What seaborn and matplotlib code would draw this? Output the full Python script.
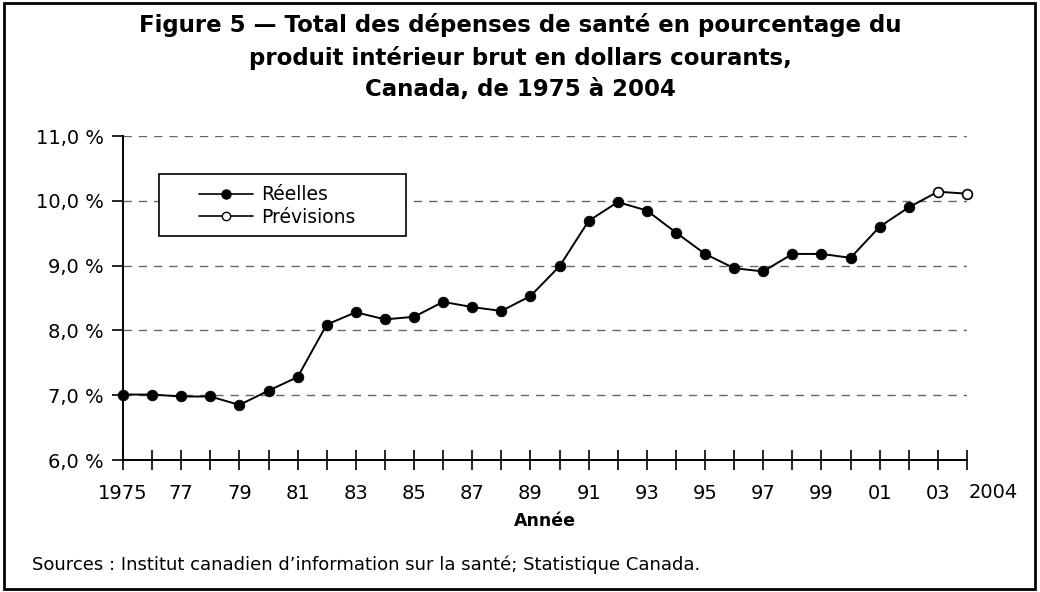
import pandas as pd
import seaborn as sns
import matplotlib.pyplot as plt
from matplotlib.lines import Line2D
from matplotlib.patches import Rectangle

# Data
years = list(range(1975, 2005))
actual = [7.01, 7.01, 6.98, 6.98, 6.85, 7.07, 7.28, 8.09, 8.28, 8.17,
          8.21, 8.44, 8.36, 8.30, 8.53, 8.99, 9.69, 9.98, 9.85, 9.51,
          9.18, 8.96, 8.91, 9.18, 9.18, 9.12, 9.60, 9.90]
forecast = [10.14, 10.11]
xtick_labels = ['1975', '', '77', '', '79', '', '81', '', '83', '', '85', '', '87', '',
                '89', '', '91', '', '93', '', '95', '', '97', '', '99', '', '01', '', '03', '']
ytick_labels = ['6,0 %', '7,0 %', '8,0 %', '9,0 %', '10,0 %', '11,0 %']

df = pd.DataFrame({'Année': years,
                   'Valeur': actual + forecast,
                   'Type': ['Réelles'] * len(actual) + ['Prévisions'] * len(forecast)})

sns.set_style('white')
plt.rcParams['font.family'] = ['DejaVu Sans']
plt.rcParams['text.color'] = 'black'
plt.rcParams['axes.labelcolor'] = 'black'

fig = plt.figure(figsize=(10.4, 5.92), dpi=100)
ax = fig.add_axes([123 / 1040, 132 / 592, 844 / 1040, 324 / 592])

# line through all points, then markers
sns.lineplot(data=df, x='Année', y='Valeur', color='black', lw=1.4, ax=ax, zorder=3)
sns.scatterplot(data=df[df['Type'] == 'Réelles'], x='Année', y='Valeur', color='black',
                edgecolor='black', s=58, ax=ax, zorder=4, legend=False, clip_on=False)
sns.scatterplot(data=df[df['Type'] == 'Prévisions'], x='Année', y='Valeur', color='white',
                edgecolor='black', linewidth=1.2, s=50, ax=ax, zorder=4, legend=False,
                clip_on=False)

ax.set_xlim(1975, 2004)
ax.set_ylim(6, 11)
ax.set_yticks([6, 7, 8, 9, 10, 11])
ax.set_yticklabels(ytick_labels, fontsize=14)
ax.set_xticks(years)
ax.set_xticklabels(xtick_labels, fontsize=14)
ax.tick_params(axis='x', bottom=True, direction='inout', length=14, width=1.2, pad=10,
               colors='black')
ax.tick_params(axis='y', left=True, direction='out', length=8, width=1.2, pad=6,
               colors='black')
ax.grid(axis='y', linestyle=(0, (6, 5)), color='#666666', lw=1)
ax.grid(axis='x', visible=False)
ax.set_axisbelow(True)
for s in ['top', 'right']:
    ax.spines[s].set_visible(False)
for s in ['left', 'bottom']:
    ax.spines[s].set_color('black')
    ax.spines[s].set_linewidth(1.4)

ax.set_xlabel('Année', fontsize=12.5, fontweight='bold', labelpad=7)
ax.set_ylabel('')

# legend box drawn separately to match the roomy frame of the original
ax.add_patch(Rectangle((0.0427, 0.691), 0.2926, 0.192, transform=ax.transAxes,
                       facecolor='white', edgecolor='black', lw=1.2, zorder=5))
handles = [Line2D([0], [0], color='black', lw=1.2, marker='o', markersize=6.5,
                  markerfacecolor='black', markeredgecolor='black'),
           Line2D([0], [0], color='black', lw=1.2, marker='o', markersize=6,
                  markerfacecolor='white', markeredgecolor='black')]
leg = ax.legend(handles, ['Réelles', 'Prévisions'], loc='center left',
                bbox_to_anchor=(0.090, 0.784), borderaxespad=0, borderpad=0,
                fontsize=13.5, frameon=False, handlelength=2.9, handletextpad=0.4,
                labelspacing=0.2)
leg.set_zorder(6)

fig.text(993 / 1040, 1 - 493 / 592, '2004', ha='center', va='center', fontsize=14)

fig.text(0.5, 1 - 57 / 592,
         'Figure 5 — Total des dépenses de santé en pourcentage du\n'
         'produit intérieur brut en dollars courants,\n'
         'Canada, de 1975 à 2004',
         ha='center', va='center', fontsize=16.5, fontweight='bold', linespacing=1.48)

fig.text(32 / 1040, 1 - 565 / 592,
         'Sources : Institut canadien d’information sur la santé; Statistique Canada.',
         ha='left', va='center', fontsize=13)

fig.patches.append(Rectangle((0.004, 0.005), 0.991, 0.99, transform=fig.transFigure,
                             fill=False, edgecolor='black', lw=2))

fig.savefig('out.png', dpi=100)
